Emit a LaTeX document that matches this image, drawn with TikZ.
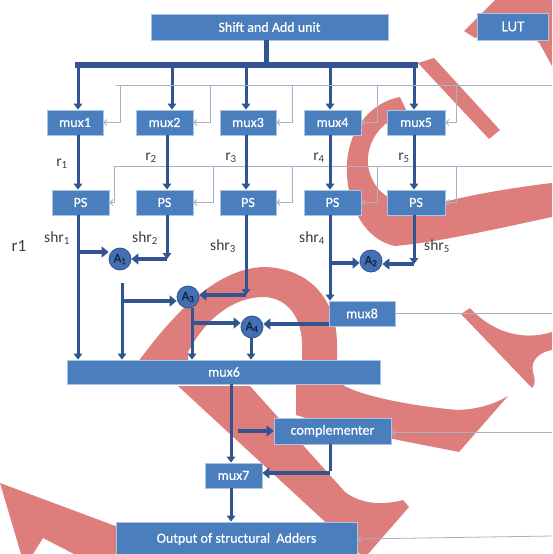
\documentclass[tikz,border=0pt]{standalone}
\usepackage{fontspec}
\setmainfont{Carlito}
\newfontfamily\boxfont{Carlito}[FakeBold=0.6]
\usetikzlibrary{arrows.meta}
\definecolor{boxblue}{RGB}{74,126,189}
\definecolor{boxedge}{RGB}{170,196,228}
\definecolor{wire}{RGB}{50,84,144}
\definecolor{thinline}{RGB}{165,178,200}
\definecolor{wmred}{RGB}{222,126,124}
\definecolor{adderfill}{RGB}{66,112,178}
\definecolor{labelgray}{RGB}{60,60,60}
\begin{document}
\begin{tikzpicture}[x=1pt,y=-1pt,
  blk/.style={draw=boxedge, line width=0.8pt, fill=boxblue, text=white, inner sep=0pt,
              font=\boxfont\fontsize{14}{14}\selectfont},
  adder/.style={circle, draw=wire, line width=0.8pt, fill=adderfill, minimum size=22pt,
                inner sep=0pt, font=\boxfont\fontsize{13}{13}\selectfont, text=wire!40!black},
  busline/.style={draw=wire, line width=6pt},
  arr/.style={draw=wire, line width=3pt, -{Triangle[width=8.5pt,length=6pt]}},
  fat/.style={draw=wire, line width=4.2pt, -{Triangle[width=11pt,length=7pt]}},
  ctl/.style={draw=thinline, line width=0.8pt},
  ctlarr/.style={ctl, -{Straight Barb[length=3pt,width=6pt]}},
  lbl/.style={text=labelgray, font=\fontsize{15.5}{15.5}\selectfont},
  wm/.style={fill=wmred}
]
\useasboundingbox (0,0) rectangle (552,554);
\fill[white] (0,0) rectangle (552,554);

% ---- red watermark strokes (behind everything) ----
\fill[wm] (464,31) -- (495,0) -- (552,0) -- (552,66) -- (540,44) -- (515,18) -- (475,38) -- cycle;
\fill[wm] (418,63) -- (434,58) -- (500,130) -- (489,139) -- cycle;
\fill[wm] (400,97) .. controls (372,102) and (349,128) .. (347,163)
  .. controls (345,205) and (365,240) .. (395,246)
  .. controls (440,242) and (500,228) .. (552,217) -- (552,183)
  .. controls (510,188) and (470,195) .. (440,203)
  .. controls (400,212) and (372,195) .. (368,165)
  .. controls (366,138) and (385,118) .. (408,114) -- cycle;
\fill[wm] (138,362) .. controls (170,318) and (215,268) .. (264,267)
  .. controls (310,268) and (337,300) .. (337,345) -- (337,365) -- (302,365) -- (302,345)
  .. controls (302,318) and (288,298) .. (264,297)
  .. controls (232,297) and (205,320) .. (188,352) -- (188,365) -- cycle;
\fill[wm] (178,386) -- (250,386) -- (345,492) .. controls (362,505) and (385,505) .. (403,500)
  -- (409,507) -- (368,554) -- (360,554) -- cycle;
\fill[wm] (296,380) -- (337,380) .. controls (345,392) and (400,405) .. (458,410)
  .. controls (482,409) and (498,402) .. (508,396) -- (459,452)
  .. controls (420,444) and (350,432) .. (296,415) -- cycle;
\fill[wm] (461,314) -- (470,308) .. controls (490,330) and (520,342) .. (552,332) -- (552,350)
  .. controls (540,352) and (530,360) .. (533,372) .. controls (535,380) and (536,384) .. (532,388) -- cycle;
\fill[wm] (0,483) -- (118,527) -- (118,554) -- (74,554) -- (43,538) -- (33,554) -- (21,554) -- cycle;

% ---- blocks ----
\node[blk, minimum width=237pt, minimum height=26pt] (sau) at (269.5,27) {Shift and Add unit};
\node[blk, minimum width=71pt, minimum height=27pt, font=\boxfont\fontsize{15}{15}\selectfont] (lut) at (513,26.5) {LUT};

\node[blk, minimum width=56pt, minimum height=25pt] (mux1) at (75,122.5) {mux1};
\node[blk, minimum width=57pt, minimum height=25pt] (mux2) at (164.5,122.5) {mux2};
\node[blk, minimum width=56pt, minimum height=25pt] (mux3) at (248,122.5) {mux3};
\node[blk, minimum width=57pt, minimum height=25pt] (mux4) at (332.5,122.5) {mux4};
\node[blk, minimum width=58pt, minimum height=25pt] (mux5) at (416,122.5) {mux5};

\node[blk, minimum width=57pt, minimum height=25pt] (ps1) at (80.5,202.5) {PS};
\node[blk, minimum width=57pt, minimum height=25pt] (ps2) at (164.5,202.5) {PS};
\node[blk, minimum width=56pt, minimum height=25pt] (ps3) at (248,202.5) {PS};
\node[blk, minimum width=57pt, minimum height=25pt] (ps4) at (332.5,202.5) {PS};
\node[blk, minimum width=58pt, minimum height=25pt] (ps5) at (416,202.5) {PS};

\node[adder] (A1) at (120,259) {A\textsubscript{1}};
\node[adder] (A2) at (371,261) {A\textsubscript{2}};
\node[adder] (A3) at (188,297) {A\textsubscript{3}};
\node[adder] (A4) at (252,327) {A\textsubscript{4}};

\node[blk, minimum width=66pt, minimum height=25pt] (mux8) at (362,313.5) {mux8};
\node[blk, minimum width=313pt, minimum height=24pt] (mux6) at (224,372) {mux6};
\node[blk, minimum width=117pt, minimum height=26pt] (comp) at (332.5,431) {complementer};
\node[blk, minimum width=57pt, minimum height=25pt] (mux7) at (233.5,475.5) {mux7};
\node[blk, minimum width=241pt, minimum height=34pt] (out) at (236.5,539) {Output of structural\ \ Adders};

% ---- labels ----
\node[lbl] (lr1) at (62,164) {r\textsubscript{1}};
\node[lbl] (lr2) at (151,158) {r\textsubscript{2}};
\node[lbl] (lr3) at (231,158) {r\textsubscript{3}};
\node[lbl] (lr4) at (319,158) {r\textsubscript{4}};
\node[lbl] (lr5) at (404,158) {r\textsubscript{5}};
\node[lbl, font=\fontsize{17}{17}\selectfont] (bigr) at (19,246) {r1};
\node[lbl] (sh1) at (57,238) {shr\textsubscript{1}};
\node[lbl] (sh2) at (145,238) {shr\textsubscript{2}};
\node[lbl] (sh3) at (223,246) {shr\textsubscript{3}};
\node[lbl] (sh4) at (312,238) {shr\textsubscript{4}};
\node[lbl] (sh5) at (437,246) {shr\textsubscript{5}};

% ---- bus from the shift and add unit ----
\coordinate (busL) at (75,65);
\coordinate (busR) at (418,65);
\coordinate (stem) at (266,65);
\draw[busline] (busL) -- (busR);
\draw[draw=wire, line width=5pt] (stem |- sau.south) -- (stem);
\foreach \x/\n in {78/1,172/2,246/3,330/4,414/5}{
  \coordinate (d\n) at (\x,65);
  \draw[arr] (d\n) -- (d\n |- mux\n.north);
}

% ---- control lines from the right ----
\coordinate (g1L) at (116,85);
\coordinate (g1R) at (552,85);
\draw[ctl] (g1L) -- (g1R);
\foreach \x/\n in {120/1,210/2,292/3,377/4,456/5}{
  \coordinate (m\n) at (\x,85);
  \draw[ctlarr] (m\n) |- (mux\n.east);
}
\coordinate (g2L) at (114,166);
\coordinate (g2R) at (552,166);
\draw[ctl] (g2L) -- (g2R);
\foreach \x/\n in {114/1,213/2,292/3,377/4,456/5}{
  \coordinate (p\n) at (\x,166);
  \draw[ctlarr] (p\n) |- (ps\n.east);
}

% ---- mux -> PS ----
\foreach \x/\n in {78/1,167/2,246/3,330/4,414/5}{
  \coordinate (r\n) at (\x,0);
  \draw[arr] (mux\n.south -| r\n) -- (ps\n.north -| r\n);
}

% ---- adder tree ----
\coordinate (s1) at (78,252);
\draw[arr] (ps1.south -| r1) -- (mux6.north -| r1);
\draw[fat] (s1) -- (s1 -| A1.west);
\coordinate (k2) at (167,259);
\draw[arr] (ps2.south -| k2) -- (k2);
\draw[fat] (k2) -- (A1.east);

\coordinate (o1) at (122,283);
\coordinate (b1) at (122,301);
\draw[arr] (o1) -- (o1 |- mux6.north);
\draw[fat] (b1) -- (b1 -| A3.west);
\coordinate (k3) at (246,295);
\draw[arr] (ps3.south -| k3) -- (k3);
\draw[fat] (k3) -- (k3 -| A3.east);

\coordinate (o3) at (192,0);
\coordinate (b3) at (192,323);
\draw[arr] (A3.south -| o3) -- (mux6.north -| o3);
\draw[fat] (b3) -- (b3 -| A4.west);
\coordinate (o4) at (251,0);
\draw[arr] (A4.south -| o4) -- (mux6.north -| o4);

\coordinate (s4) at (330,263);
\draw[arr] (ps4.south -| s4) -- (mux8.north -| s4);
\draw[fat] (s4) -- (s4 -| A2.west);
\coordinate (k5) at (414,264);
\draw[arr] (ps5.south -| k5) -- (k5);
\draw[fat] (k5) -- (k5 -| A2.east);

\coordinate (m8) at (329,324);
\draw[fat] (m8) -- (m8 -| A4.east);

% ---- output stage ----
\coordinate (c6) at (231,0);
\draw[arr] (mux6.south -| c6) -- (mux7.north -| c6);
\coordinate (cs) at (238,431);
\draw[fat] (cs) -- (cs -| comp.west);
\coordinate (k7) at (330,473);
\draw[draw=wire, line width=3pt] (comp.south -| k7) -- ([yshift=2pt]k7);
\draw[fat] (k7) -- (k7 -| mux7.east);
\draw[arr] (mux7.south -| c6) -- (out.north -| c6);

\coordinate (rm8) at (552,313);
\draw[ctl] (rm8) -- (mux8.east |- rm8);
\coordinate (rcm) at (552,432);
\draw[ctlarr] (rcm) -- (comp.east |- rcm);
\coordinate (rot) at (552,536);
\draw[ctlarr] (rot) -- (out.east);
\end{tikzpicture}
\end{document}
